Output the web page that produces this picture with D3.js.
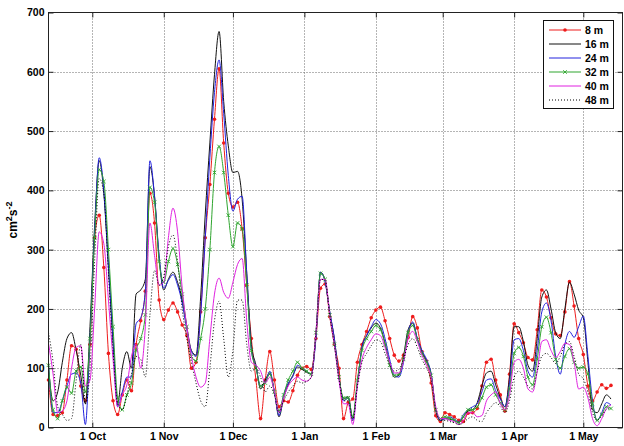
<!DOCTYPE html>
<html>
<head>
<meta charset="utf-8">
<script src="https://cdn.jsdelivr.net/npm/d3@7"></script>
<style>
  body { margin: 0; background: #fff; }
  svg text { font-family: "Liberation Sans", Arial, Helvetica, sans-serif; font-weight: bold; fill: #000; }
</style>
</head>
<body>
<svg id="chart" width="624" height="446"></svg>
<script>
// Eddy kinetic energy (cm^2 s^-2) at six depths, sampled every 2 days from 12 Sep 2003
const firstDay = "2003-09-12";
const stepDays = 2;

const ke8m = [
  80, 22, 20, 25, 80, 138, 132, 70, 45, 140,
  320, 358, 270, 125, 45, 22, 55, 80, 62, 140,
  180, 230, 395, 345, 215, 182, 198, 210, 195, 173,
  155, 100, 110, 195, 320, 410, 520, 605, 480, 395,
  372, 380, 335, 240, 150, 80, 15, 80, 128, 80,
  35, 45, 43, 62, 88, 100, 103, 98, 150, 235,
  242, 187, 140, 100, 15, 42, 48, 110, 140, 162,
  185, 198, 203, 180, 150, 122, 112, 122, 152, 187,
  168, 128, 112, 75, 20, 10, 25, 22, 18, 12,
  10, 24, 25, 32, 70, 110, 115, 80, 55, 28,
  90, 175, 160, 143, 118, 114, 165, 232, 220, 185,
  158, 155, 195, 246, 205, 150, 123, 70, 45, 60,
  72, 66, 71
];
const ke16m = [
  100, 45, 60, 110, 150, 160, 130, 88, 40, 170,
  340, 450, 395, 270, 145, 40, 100, 128, 100, 225,
  232, 250, 440, 390, 285, 232, 250, 262, 245, 215,
  170, 130, 122, 220, 360, 480, 595, 668, 550, 475,
  430, 432, 385, 260, 140, 105, 65, 80, 92, 60,
  18, 50, 72, 88, 102, 98, 93, 90, 155, 262,
  248, 195, 150, 85, 48, 52, 15, 75, 135, 155,
  168, 176, 168, 142, 108, 85, 88, 120, 165, 176,
  150, 128, 112, 90, 30, 12, 15, 14, 12, 8,
  18, 28, 30, 42, 70, 92, 95, 72, 50, 35,
  85, 170, 170, 145, 105, 95, 150, 220, 232, 200,
  160, 150, 200, 245, 225, 198, 185, 110, 30, 25,
  40, 55, 48
];
const ke24m = [
  109, 25, 25, 45, 70, 90, 92, 75, 5, 150,
  330, 455, 400, 275, 150, 35, 60, 85, 85, 175,
  185, 230, 450, 390, 290, 235, 248, 258, 240, 210,
  165, 128, 120, 190, 320, 455, 565, 620, 530, 425,
  365, 385, 390, 260, 130, 102, 70, 75, 95, 60,
  20, 55, 75, 86, 105, 100, 95, 90, 150, 262,
  245, 195, 150, 85, 45, 50, 12, 75, 135, 155,
  170, 182, 175, 150, 115, 88, 85, 110, 160, 178,
  150, 130, 115, 90, 30, 12, 15, 18, 14, 10,
  22, 30, 35, 40, 60, 80, 82, 62, 48, 35,
  75, 148, 150, 130, 95, 85, 130, 195, 210, 180,
  120, 90, 140, 162, 152, 170, 188, 120, 45, 12,
  25, 42, 38
];
const ke32m = [
  105, 30, 15, 45, 68, 58, 95, 102, 60, 150,
  320, 435, 415, 300, 170, 50, 30, 55, 75, 130,
  150, 190, 405, 380, 280, 245, 280, 302, 275, 225,
  170, 120, 112, 150, 200, 300, 430, 474, 430, 358,
  305, 345, 335, 240, 130, 100, 70, 75, 90, 60,
  28, 55, 80, 95, 110, 100, 95, 90, 160, 260,
  250, 190, 140, 85, 50, 50, 18, 80, 130, 150,
  162, 172, 165, 140, 105, 88, 90, 115, 160, 172,
  148, 125, 110, 88, 30, 15, 18, 16, 12, 8,
  18, 30, 30, 35, 50, 68, 72, 55, 42, 30,
  65, 125, 135, 120, 85, 72, 115, 170, 186, 160,
  115, 100, 120, 133, 110, 100, 102, 90, 40, 12,
  22, 35, 32
];
const ke40m = [
  142, 90, 25, 28, 45, 100, 135, 138, 70, 80,
  200, 330, 310, 215, 115, 35, 55, 72, 120, 140,
  100, 170, 345, 290, 240, 245, 320, 370, 330, 235,
  170, 120, 85, 68, 75, 150, 225, 252, 228, 218,
  245, 275, 285, 180, 110, 105, 95, 75, 85, 60,
  25, 50, 70, 80, 85, 80, 78, 85, 160, 250,
  250, 190, 140, 80, 40, 40, 5, 70, 115, 135,
  148, 158, 155, 135, 110, 92, 92, 112, 150, 162,
  145, 122, 105, 85, 35, 15, 15, 12, 10, 5,
  12, 25, 25, 18, 20, 45, 55, 60, 40, 30,
  55, 110, 115, 100, 65, 60, 95, 145, 148, 130,
  118, 128, 142, 140, 110, 65, 68, 50, 15, 3,
  15, 32, 38
];
const ke48m = [
  160, 110, 35, 22, 12, 15, 80, 140, 40, 100,
  280, 420, 395, 260, 130, 40, 30, 55, 90, 120,
  115, 85, 190, 265, 240, 255, 305, 325, 280, 200,
  150, 110, 75, 45, 35, 100, 180, 213, 150, 85,
  130, 215, 215, 140, 95, 100, 85, 60, 70, 55,
  25, 45, 60, 70, 78, 75, 78, 85, 160, 250,
  248, 190, 140, 82, 45, 45, 12, 70, 110, 125,
  138, 148, 145, 125, 105, 95, 98, 115, 140, 150,
  135, 115, 100, 80, 30, 12, 12, 10, 8, 5,
  8, 15, 18, 12, 10, 25, 35, 42, 35, 25,
  45, 85, 95, 85, 70, 65, 95, 120, 125, 118,
  108, 120, 140, 145, 120, 90, 82, 60, 25, 12,
  20, 30, 32
];

const seriesNames = ["8 m", "16 m", "24 m", "32 m", "40 m", "48 m"];
const monthTicks = ["2003-10-01", "2003-11-01", "2003-12-01", "2004-01-01",
                    "2004-02-01", "2004-03-01", "2004-04-01", "2004-05-01"];
const monthLabels = ["1 Oct", "1 Nov", "1 Dec", "1 Jan", "1 Feb", "1 Mar", "1 Apr", "1 May"];
const yTicks = [0, 100, 200, 300, 400, 500, 600, 700];

// line styles per depth
const styles = [
  { color: "#ee1c1c", dash: null, marker: "dot" },
  { color: "#111111", dash: null, marker: null },
  { color: "#2222dd", dash: null, marker: null },
  { color: "#2fa52f", dash: null, marker: "x" },
  { color: "#e020e0", dash: null, marker: null },
  { color: "#000000", dash: "1,2", marker: null }
];

const parse = d3.utcParse("%Y-%m-%d");
const t0 = parse(firstDay);
const allSeries = [ke8m, ke16m, ke24m, ke32m, ke40m, ke48m].map((vals, k) => ({
  name: seriesNames[k],
  style: styles[k],
  points: vals.map((v, i) => ({ date: d3.utcDay.offset(t0, i * stepDays), v }))
}));

const L = 48.5, R = 622.5, T = 12.5, B = 427.5;
const x = d3.scaleUtc().domain([parse("2003-09-12"), parse("2004-05-18")]).range([L, R]);
const y = d3.scaleLinear().domain([0, 700]).range([B, T]);

const svg = d3.select("#chart");
const monthDates = monthTicks.map(parse);

// dotted grid
const grid = svg.append("g").attr("stroke", "#6a6a6a").attr("stroke-dasharray", "1,2").attr("stroke-width", 1);
grid.selectAll("line.v").data(monthDates).join("line")
  .attr("x1", d => Math.round(x(d)) + 0.5).attr("x2", d => Math.round(x(d)) + 0.5)
  .attr("y1", T).attr("y2", B);
grid.selectAll("line.h").data(yTicks.filter(v => v > 0 && v < 700)).join("line")
  .attr("y1", d => Math.round(y(d)) + 0.5).attr("y2", d => Math.round(y(d)) + 0.5)
  .attr("x1", L).attr("x2", R);

// data lines
const plot = svg.append("g");
const line = d3.line().x(d => x(d.date)).y(d => y(d.v)).curve(d3.curveMonotoneX);
allSeries.forEach(s => {
  plot.append("path").datum(s.points)
    .attr("fill", "none")
    .attr("stroke", s.style.color)
    .attr("stroke-width", 1)
    .attr("stroke-dasharray", s.style.dash)
    .attr("d", line);
  if (s.style.marker === "dot") {
    plot.append("g").selectAll("circle").data(s.points).join("circle")
      .attr("cx", d => x(d.date)).attr("cy", d => y(d.v)).attr("r", 1.8)
      .attr("fill", s.style.color);
  } else if (s.style.marker === "x") {
    const m = plot.append("g").attr("stroke", s.style.color).attr("stroke-width", 0.9);
    m.selectAll("path").data(s.points).join("path")
      .attr("d", d => {
        const cx = x(d.date), cy = y(d.v), r = 1.8;
        return `M${cx - r},${cy - r}L${cx + r},${cy + r}M${cx - r},${cy + r}L${cx + r},${cy - r}`;
      });
  }
});

// axes with inward ticks
const xAxis = svg.append("g").attr("transform", `translate(0,${B})`)
  .call(d3.axisBottom(x).tickValues(monthDates).tickFormat((d, i) => monthLabels[i])
    .tickSizeInner(-5).tickSizeOuter(0).tickPadding(5));
xAxis.selectAll("text").attr("font-size", "10.5px");
svg.append("g").attr("transform", `translate(0,${T})`)
  .call(d3.axisTop(x).tickValues(monthDates).tickFormat("").tickSizeInner(-5).tickSizeOuter(0));
const yAxis = svg.append("g").attr("transform", `translate(${L},0)`)
  .call(d3.axisLeft(y).tickValues(yTicks).tickSizeInner(-5).tickSizeOuter(0).tickPadding(4));
yAxis.selectAll("text").attr("font-size", "10.5px");
svg.append("g").attr("transform", `translate(${R},0)`)
  .call(d3.axisRight(y).tickValues(yTicks).tickFormat("").tickSizeInner(-5).tickSizeOuter(0));
svg.selectAll(".domain").remove();
svg.selectAll(".tick line").attr("stroke", "#222");

// frame
svg.append("rect").attr("x", L).attr("y", T).attr("width", R - L).attr("height", B - T)
  .attr("fill", "none").attr("stroke", "#222").attr("stroke-width", 1);

// y-axis label
const ylab = svg.append("text")
  .attr("transform", `translate(17,${(T + B) / 2}) rotate(-90)`)
  .attr("text-anchor", "middle").attr("font-size", "12px");
ylab.append("tspan").text("cm");
ylab.append("tspan").attr("dy", -5).attr("font-size", "9px").text("2");
ylab.append("tspan").attr("dy", 5).text("s");
ylab.append("tspan").attr("dy", -5).attr("font-size", "9px").text("-2");

// legend
const lg = svg.append("g");
lg.append("rect").attr("x", 543.5).attr("y", 20.5).attr("width", 70).attr("height", 88)
  .attr("fill", "#fff").attr("stroke", "#111");
allSeries.forEach((s, i) => {
  const ry = 30 + i * 14;
  lg.append("line").attr("x1", 549).attr("x2", 581).attr("y1", ry).attr("y2", ry)
    .attr("stroke", s.style.color).attr("stroke-dasharray", s.style.dash);
  if (s.style.marker === "dot") {
    lg.append("circle").attr("cx", 565).attr("cy", ry).attr("r", 1.8).attr("fill", s.style.color);
  } else if (s.style.marker === "x") {
    lg.append("path").attr("stroke", s.style.color).attr("stroke-width", 0.9)
      .attr("d", `M563.2,${ry - 1.8}L566.8,${ry + 1.8}M563.2,${ry + 1.8}L566.8,${ry - 1.8}`);
  }
  lg.append("text").attr("x", 585).attr("y", ry + 4).attr("font-size", "10.5px").text(s.name);
});
</script>
</body>
</html>
